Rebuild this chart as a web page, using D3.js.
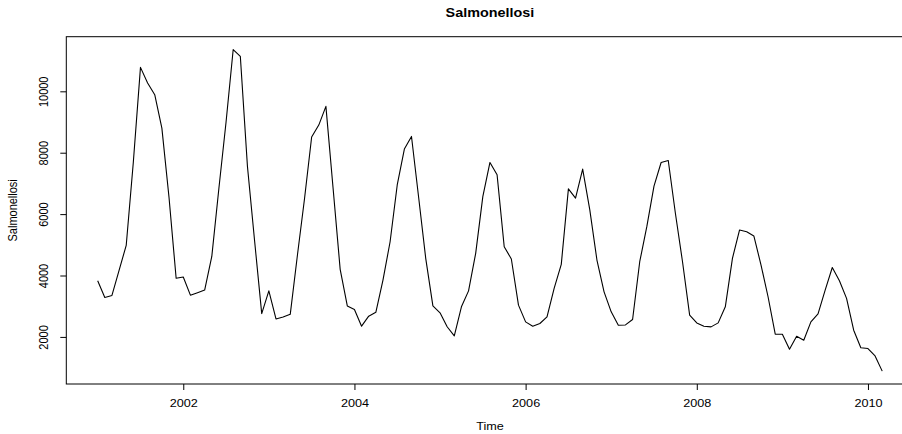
<!DOCTYPE html>
<html>
<head>
<meta charset="utf-8">
<script src="https://cdn.jsdelivr.net/npm/d3@7"></script>
<style>
  html, body { margin: 0; padding: 0; background: #fff; }
  svg { display: block; }
  text { font-family: "Liberation Sans", Arial, Helvetica, sans-serif; fill: #000; }
</style>
</head>
<body>
<svg id="chart" width="902" height="434"></svg>
<script>
// Monthly salmonellosis counts, January 2001 to March 2010
const startYear = 2001;
const values2001 = [3828, 3286, 3350, 4170, 4980, 7700, 10780, 10270, 9890, 8800, 6550, 3910];
const values2002 = [3950, 3360, 3440, 3525, 4620, 6850, 9000, 11360, 11140, 7550, 5130, 2760];
const values2003 = [3500, 2585, 2650, 2735, 4650, 6500, 8510, 8900, 9510, 6860, 4200, 3010];
const values2004 = [2895, 2350, 2676, 2800, 3850, 5100, 6950, 8120, 8530, 6550, 4550, 3010];
const values2005 = [2784, 2330, 2033, 2980, 3500, 4723, 6571, 7682, 7280, 4939, 4537, 3035];
const values2006 = [2490, 2349, 2437, 2653, 3580, 4364, 6823, 6519, 7466, 6137, 4505, 3469];
const values2007 = [2816, 2382, 2390, 2568, 4449, 5600, 6910, 7682, 7747, 6029, 4449, 2710];
const values2008 = [2457, 2349, 2327, 2457, 2980, 4560, 5484, 5428, 5288, 4350, 3300, 2088];
const values2009 = [2088, 1598, 2022, 1892, 2490, 2750, 3525, 4260, 3829, 3254, 2219, 1645];
const values2010 = [1620, 1380, 885];

const xTicks = [2002, 2004, 2006, 2008, 2010];
const yTicks = [2000, 4000, 6000, 8000, 10000];
const titleText = "Salmonellosi";
const xLabel = "Time";
const yLabel = "Salmonellosi";

const counts = [].concat(values2001, values2002, values2003, values2004, values2005,
                         values2006, values2007, values2008, values2009, values2010);
const series = counts.map((v, i) => ({ t: startYear + i / 12, v }));

const svg = d3.select("#chart");

// Plot region and R-style 4% padding on both axes
const plot = { left: 66.3, right: 913.6, top: 36.7, bottom: 384 };
const tExt = d3.extent(series, d => d.t);
const vExt = d3.extent(series, d => d.v);
const tPad = (tExt[1] - tExt[0]) * 0.04;
const vPad = (vExt[1] - vExt[0]) * 0.04;

const x = d3.scaleLinear().domain([tExt[0] - tPad, tExt[1] + tPad]).range([plot.left, plot.right]);
const y = d3.scaleLinear().domain([vExt[0] - vPad, vExt[1] + vPad]).range([plot.bottom, plot.top]);

const fontSize = 11;
const sx = 1.15; // horizontal stretch of the lettering

// Series line
svg.append("path")
  .datum(series)
  .attr("fill", "none")
  .attr("stroke", "#000")
  .attr("stroke-width", 1.1)
  .attr("stroke-linejoin", "round")
  .attr("d", d3.line().x(d => x(d.t)).y(d => y(d.v)));

// Bottom axis
const xAxis = svg.append("g")
  .attr("transform", `translate(0,${plot.bottom})`)
  .call(d3.axisBottom(x).tickValues(xTicks).tickSize(6).tickSizeOuter(0).tickFormat(d3.format("d")));
xAxis.select(".domain").remove();
xAxis.selectAll("line").attr("stroke", "#000");
xAxis.selectAll("text")
  .attr("y", 0).attr("dy", 0)
  .attr("font-size", fontSize)
  .attr("font-family", null)
  .attr("transform", `translate(0,23) scale(${sx},1)`);

// Left axis with rotated labels
const yAxis = svg.append("g")
  .attr("transform", `translate(${plot.left},0)`)
  .call(d3.axisLeft(y).tickValues(yTicks).tickSize(6).tickSizeOuter(0).tickFormat(d3.format("d")));
yAxis.select(".domain").remove();
yAxis.selectAll("line").attr("stroke", "#000");
yAxis.selectAll("text")
  .attr("x", 0).attr("dy", 0)
  .attr("text-anchor", "middle")
  .attr("font-size", fontSize)
  .attr("font-family", null)
  .attr("transform", `translate(-18,0) scale(${sx},1) rotate(-90)`);

// Frame
svg.append("rect")
  .attr("x", plot.left).attr("y", plot.top)
  .attr("width", plot.right - plot.left).attr("height", plot.bottom - plot.top)
  .attr("fill", "none").attr("stroke", "#000").attr("stroke-width", 1);

// Titles
svg.append("text")
  .attr("text-anchor", "middle")
  .attr("font-size", 12.5)
  .attr("font-weight", "bold")
  .attr("transform", `translate(${(plot.left + plot.right) / 2},17) scale(${sx},1)`)
  .text(titleText);

svg.append("text")
  .attr("text-anchor", "middle")
  .attr("font-size", fontSize)
  .attr("transform", `translate(${(plot.left + plot.right) / 2},430) scale(${sx},1)`)
  .text(xLabel);

svg.append("text")
  .attr("text-anchor", "middle")
  .attr("font-size", fontSize)
  .attr("transform", `translate(17,${(plot.top + plot.bottom) / 2}) scale(${sx},1) rotate(-90)`)
  .text(yLabel);
</script>
</body>
</html>
